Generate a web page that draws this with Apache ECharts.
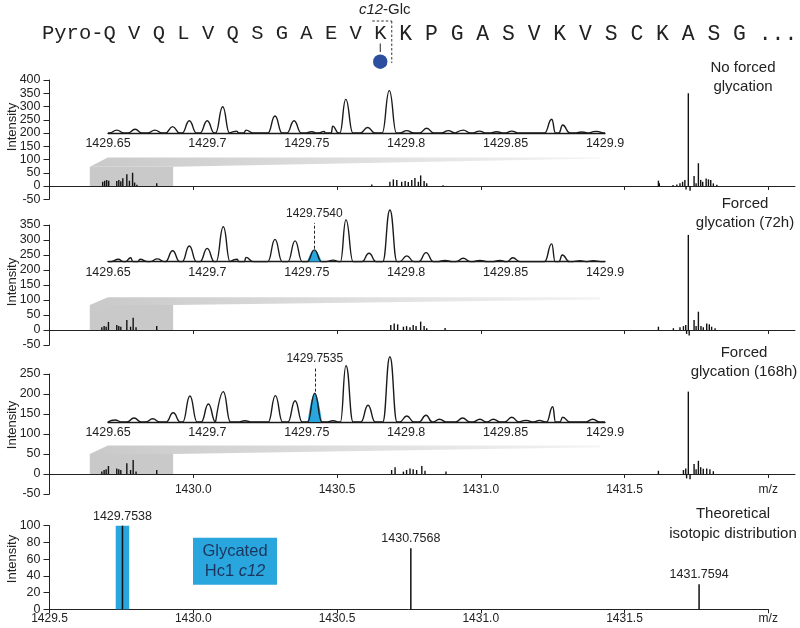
<!DOCTYPE html>
<html><head><meta charset="utf-8">
<script src="https://cdn.jsdelivr.net/npm/echarts@6/dist/echarts.min.js"></script>
<style>html,body{margin:0;padding:0;background:#fff}#c{width:800px;height:628px}</style>
</head><body><div id="c"></div>
<script>
// ---------------- DATA ----------------
const sequenceHead = 'Pyro-Q V Q L V Q S G A E V K';
const sequenceTail = 'K P G A S V K V S C K A S G ...';
const siteLabel = '{i|c12}-Glc';
const panelTitles = ['No forced\nglycation', 'Forced\nglycation (72h)', 'Forced\nglycation (168h)', 'Theoretical\nisotopic distribution'];
const boxText = 'Glycated\nHc1 {i|c12}';

const mainTickValues = [1430, 1430.5, 1431, 1431.5, 1432];
const bottomTickValues = [1429.5, 1430, 1430.5, 1431, 1431.5, 1432];
const insetTickStep = 0.05;

// main stick spectra [m/z, intensity]
const spectrum1 = [[1429.685,16],[1429.692,20],[1429.699,23],[1429.706,20],[1429.734,19],[1429.741,23],[1429.748,18],[1429.755,29],[1429.769,44],[1429.778,20],[1429.789,50],[1429.796,13],[1429.804,5],[1429.873,10],
  [1430.621,6],[1430.684,16],[1430.696,25],[1430.708,23],[1430.725,16],[1430.737,19],[1430.748,15],[1430.760,23],[1430.771,30],[1430.783,16],[1430.791,40],[1430.803,19],[1430.812,10],[1430.869,3],
  [1431.618,20],[1431.621,10],[1431.669,4],[1431.682,6],[1431.693,10],[1431.702,16],[1431.710,23],[1431.714,-13],[1431.722,350],[1431.728,-18],[1431.742,38],[1431.749,10],[1431.757,86],[1431.765,23],[1431.772,16],[1431.784,28],[1431.792,25],[1431.800,23],[1431.809,10],[1431.821,5]];
const spectrum2 = [[1429.682,9],[1429.690,13],[1429.697,11],[1429.705,27],[1429.734,17],[1429.741,13],[1429.748,11],[1429.769,33],[1429.782,11],[1429.791,41],[1429.801,9],[1429.873,13],
  [1430.687,17],[1430.699,22],[1430.711,19],[1430.731,11],[1430.742,13],[1430.754,9],[1430.765,17],[1430.775,13],[1430.791,28],[1430.803,13],[1430.812,6],[1430.876,7],
  [1431.618,11],[1431.670,6],[1431.693,9],[1431.705,13],[1431.713,17],[1431.716,-13],[1431.722,317],[1431.725,-18],[1431.742,33],[1431.749,13],[1431.757,61],[1431.766,13],[1431.774,9],[1431.786,22],[1431.795,19],[1431.803,11],[1431.815,6]];
const spectrum3 = [[1429.682,6],[1429.690,10],[1429.697,12],[1429.705,20],[1429.734,14],[1429.741,12],[1429.748,10],[1429.769,27],[1429.782,10],[1429.791,35],[1429.801,6],[1429.873,10],
  [1430.690,10],[1430.702,17],[1430.731,6],[1430.742,10],[1430.754,14],[1430.765,12],[1430.777,10],[1430.795,20],[1430.806,8],[1430.879,6],
  [1431.618,8],[1431.705,10],[1431.713,14],[1431.716,-11],[1431.722,206],[1431.728,-13],[1431.742,25],[1431.749,12],[1431.757,33],[1431.765,17],[1431.774,13],[1431.786,14],[1431.797,12],[1431.809,7]];

// inset (magnified) profile peaks [m/z, intensity on panel scale], baselines
const insetBase = [200, 228, 130];
const insetPeaks1 = [[1429.6544,211],[1429.6636,214],[1429.6736,211],[1429.6825,224],[1429.6909,246],[1429.6999,246],[1429.7077,299],[1429.7147,207],[1429.7194,211],[1429.7340,264],[1429.7436,246],[1429.7525,205],[1429.7587,206],[1429.7630,226],[1429.7696,327],[1429.7806,221],[1429.7915,360],[1429.8003,209],[1429.8103,218],[1429.8212,209],[1429.8287,211],[1429.8368,207],[1429.8455,205],[1429.8531,207],[1429.8732,252],[1429.8787,230],[1429.8883,204],[1429.8958,206]];
const insetPeaks2 = [[1429.6552,236],[1429.6614,241],[1429.6661,236],[1429.6748,237],[1429.6825,264],[1429.6909,280],[1429.6999,272],[1429.7080,344],[1429.7150,236],[1429.7194,242],[1429.7340,302],[1429.7441,297],[1429.7538,267],[1429.7633,233],[1429.7697,367],[1429.7813,256],[1429.7918,400],[1429.8003,247],[1429.8100,258],[1429.8195,232],[1429.8287,239],[1429.8371,232],[1429.8472,232],[1429.8536,241],[1429.8732,287],[1429.8785,250],[1429.8874,231],[1429.8941,231]];
const insetPeaks3 = [[1429.6535,135],[1429.6631,140],[1429.6725,138],[1429.6828,153],[1429.6912,195],[1429.7005,175],[1429.7080,206],[1429.7189,133],[1429.7342,196],[1429.7441,183],[1429.7540,202],[1429.7633,133],[1429.7697,271],[1429.7808,172],[1429.7918,293],[1429.8003,145],[1429.8100,147],[1429.8167,137],[1429.8284,140],[1429.8371,137],[1429.8438,137],[1429.8531,142],[1429.8606,134],[1429.8670,134],[1429.8737,168],[1429.8787,142],[1429.8938,137]];
// glycated peak highlight: [m/z, intensity], label, label-line top
const glycPeaks = [null, [1429.7538, 267], [1429.7540, 202]];
const glycLabels = [null, '1429.7540', '1429.7535'];
const glycLineTop = [null, 357, 267];

// zoom region (main m/z) and wedge
const zoomRange = [1429.64, 1429.93];
const wedgeRange = [1429.703, 1431.415];
const zoomShape = [[73, 108, 104], [83, 109, 102], [50, 71, 67]]; // [box top, wedge top, wedge tip low]

// theoretical isotopic distribution
const theoretical = [[1429.7538, 100], [1430.7568, 73], [1431.7594, 30]];
const highlight = [[1429.7538, 100]];

// ---------------- LAYOUT ----------------
const FONT = 'Liberation Sans, Arial, sans-serif';
const TXT = '#222';
const BLUE = '#2aa6de';
const panels = [
  {zeroY: 186, ppu: 0.265, min: -50, max: 400, insetMax: 420},
  {zeroY: 330, ppu: 0.3, min: -50, max: 350, insetMax: 430},
  {zeroY: 474, ppu: 0.4, min: -50, max: 250, insetMax: 320},
  {zeroY: 609.3, ppu: 0.836, min: 0, max: 100}
];
const LEFT = 49.5, PXU = 287.5, MAINRIGHT = 795, INSET_L = 108, INSET_R = 605;
const insetRange = [1429.65, 1429.9];
const spectra = [spectrum1, spectrum2, spectrum3];
const insetPeaks = [insetPeaks1, insetPeaks2, insetPeaks3];

const grid = [], xAxis = [], yAxis = [], series = [];
panels.forEach((p, i) => {
  const xmax = i < 3 ? 1429.5 + (MAINRIGHT - LEFT) / PXU : 1432;
  const right = i < 3 ? 800 - MAINRIGHT : 800 - (LEFT + (1432 - 1429.5) * PXU);
  grid.push({left: LEFT, right: right, top: p.zeroY - p.max * p.ppu, height: (p.max - p.min) * p.ppu, containLabel: false});
  const ticks = i < 3 ? mainTickValues : bottomTickValues;
  xAxis.push({type: 'value', gridIndex: i, min: 1429.5, max: xmax,
    axisLine: {show: true, onZero: true, lineStyle: {color: TXT, width: 1}},
    axisTick: {show: true, length: 4, customValues: ticks, lineStyle: {color: TXT}},
    axisLabel: {show: i >= 2, customValues: ticks, color: TXT, fontSize: 12, fontFamily: FONT, margin: i === 3 ? 3 : -10,
      formatter: v => Math.abs(v - 1432) < 1e-6 ? 'm/z' : Number(v).toFixed(1)},
    splitLine: {show: false}});
  yAxis.push({type: 'value', gridIndex: i, min: p.min, max: p.max, interval: i === 3 ? 20 : 50,
    axisLine: {show: true, lineStyle: {color: TXT, width: 1}},
    axisTick: {show: true, length: 6, lineStyle: {color: TXT}},
    axisLabel: {color: TXT, fontSize: 12.5, fontFamily: FONT, margin: 9},
    splitLine: {show: false}});
});
// hidden x axis for highlight bar in bottom panel
xAxis.push({type: 'value', gridIndex: 3, min: 1429.5, max: 1432, show: false});
// inset grids
[0, 1, 2].forEach(i => {
  const p = panels[i], base = insetBase[i];
  grid.push({left: INSET_L, right: 800 - INSET_R, top: p.zeroY - p.insetMax * p.ppu, height: (p.insetMax - base) * p.ppu, containLabel: false});
  xAxis.push({type: 'value', gridIndex: 4 + i, min: insetRange[0], max: insetRange[1], interval: insetTickStep, position: 'bottom',
    axisLine: {show: true, onZero: false, lineStyle: {color: '#1a1a1a', width: 1.4}},
    axisTick: {show: false},
    axisLabel: {show: true, color: TXT, fontSize: 12.5, fontFamily: FONT, margin: 4, showMinLabel: true, showMaxLabel: true,
      formatter: v => String(parseFloat(Number(v).toFixed(2)))},
    splitLine: {show: false}});
  yAxis.push({type: 'value', gridIndex: 4 + i, min: base, max: p.insetMax, show: false, splitLine: {show: false}});
});

function peakPts(c, h, base) { const w = 0.0036; return [[c - w, base], [c, h], [c + w, base]]; }
function insetCurve(peaks, base) {
  let pts = [[insetRange[0], base], [insetRange[1], base]];
  peaks.forEach(([c, h]) => { pts = pts.concat(peakPts(c, h, base)); });
  pts.sort((a, b) => a[0] - b[0]);
  return pts;
}

[0, 1, 2].forEach(i => {
  const [boxTop, wTop, wLow] = zoomShape[i];
  series.push({type: 'custom', xAxisIndex: i, yAxisIndex: i, z: 1, silent: true, data: [[zoomRange[0], 0]],
    renderItem: (params, api) => {
      const c = (x, y) => api.coord([x, y]);
      return {type: 'group', children: [
        {type: 'polygon', shape: {points: [c(zoomRange[0], 0), c(zoomRange[0], boxTop), c(zoomRange[1], boxTop), c(zoomRange[1], 0)]}, style: {fill: '#c9c9c9'}},
        {type: 'polygon', shape: {points: [c(zoomRange[0], boxTop), c(wedgeRange[0], wTop), c(wedgeRange[1], wTop), c(wedgeRange[1], wLow), c(zoomRange[1], boxTop)]},
          style: {fill: new echarts.graphic.LinearGradient(0, 0, 1, 0, [{offset: 0, color: '#c9c9c9'}, {offset: 1, color: '#f3f3f3'}])}}
      ]};
    }});
  series.push({type: 'bar', xAxisIndex: i, yAxisIndex: i, data: spectra[i], barWidth: 1.4, z: 3, silent: true,
    itemStyle: {color: '#111'}});
  // inset profile
  series.push({type: 'line', xAxisIndex: 5 + i, yAxisIndex: 4 + i, data: insetCurve(insetPeaks[i], insetBase[i]),
    showSymbol: false, symbol: 'none', smooth: 0.5, smoothMonotone: 'x', clip: false, z: 5, silent: true,
    lineStyle: {color: '#1a1a1a', width: 1.4}});
  if (glycPeaks[i]) {
    const [gc, gh] = glycPeaks[i];
    series.push({type: 'line', xAxisIndex: 5 + i, yAxisIndex: 4 + i, data: peakPts(gc, gh, insetBase[i]),
      showSymbol: false, symbol: 'none', smooth: 0.5, smoothMonotone: 'x', clip: false, z: 4, silent: true,
      lineStyle: {width: 0}, areaStyle: {color: BLUE, opacity: 1, origin: 'start'},
      markLine: {symbol: 'none', silent: true, animation: false,
        lineStyle: {type: [3, 2], color: '#222', width: 1},
        label: {show: true, position: 'end', formatter: glycLabels[i], color: TXT, fontSize: 12, fontFamily: FONT, distance: 3},
        data: [[{coord: [gc, gh + 4]}, {coord: [gc, glycLineTop[i]]}]]}});
  }
});
// theoretical
series.push({type: 'bar', xAxisIndex: 4, yAxisIndex: 3, data: highlight, barWidth: 13.5, z: 2, silent: true, itemStyle: {color: BLUE}});
series.push({type: 'bar', xAxisIndex: 3, yAxisIndex: 3, data: theoretical, barWidth: 1.5, z: 3, silent: true, itemStyle: {color: '#111'},
  label: {show: true, position: 'top', distance: 3, color: TXT, fontSize: 12.5, fontFamily: FONT, formatter: p => p.value[0].toFixed(4)}});

// ---------------- ANNOTATIONS ----------------
const seqX = 42, seqY = 34, seqFont = 20.5, pitch = seqFont * 0.6;
const kIndex = sequenceHead.length - 1;
const kx = seqX + (kIndex + 0.5) * pitch;
const tailFont = 21.4, tailX = kx + 25.5 - tailFont * 0.3;
const graphic = [
  {type: 'text', x: seqX, y: seqY, style: {text: sequenceHead, fontFamily: 'Liberation Mono, monospace', fontSize: seqFont, fill: TXT, align: 'left', verticalAlign: 'middle'}},
  {type: 'text', x: tailX, y: seqY, style: {text: sequenceTail, fontFamily: 'Liberation Mono, monospace', fontSize: tailFont, fill: TXT, align: 'left', verticalAlign: 'middle'}},
  {type: 'text', x: kx + 4.5, y: 10, style: {text: siteLabel, fontFamily: FONT, fontSize: 15, fill: TXT, align: 'center', verticalAlign: 'middle',
    rich: {i: {fontStyle: 'italic', fontFamily: FONT, fontSize: 15, fill: TXT}}}},
  {type: 'line', shape: {x1: kx - 8, y1: 21, x2: kx + 11.5, y2: 21}, style: {stroke: '#333', lineWidth: 1, lineDash: [2.5, 2]}},
  {type: 'line', shape: {x1: kx + 11.5, y1: 21, x2: kx + 11.5, y2: 63}, style: {stroke: '#333', lineWidth: 1, lineDash: [2.5, 2]}},
  {type: 'line', shape: {x1: kx, y1: 43.5, x2: kx, y2: 52}, style: {stroke: '#222', lineWidth: 1}},
  {type: 'circle', shape: {cx: kx, cy: 61.7, r: 7.2}, style: {fill: '#2d4e9f'}},
  {type: 'text', x: 743, y: 77.5, style: {text: panelTitles[0], fontFamily: FONT, fontSize: 15, lineHeight: 19, fill: TXT, align: 'center', verticalAlign: 'middle'}},
  {type: 'text', x: 745, y: 213, style: {text: panelTitles[1], fontFamily: FONT, fontSize: 15, lineHeight: 19, fill: TXT, align: 'center', verticalAlign: 'middle'}},
  {type: 'text', x: 744, y: 362, style: {text: panelTitles[2], fontFamily: FONT, fontSize: 15, lineHeight: 19, fill: TXT, align: 'center', verticalAlign: 'middle'}},
  {type: 'text', x: 733, y: 523.5, style: {text: panelTitles[3], fontFamily: FONT, fontSize: 15, lineHeight: 20, fill: TXT, align: 'center', verticalAlign: 'middle'}},
  {type: 'rect', shape: {x: 193, y: 537.7, width: 84, height: 47}, style: {fill: BLUE}},
  {type: 'text', x: 235, y: 561.5, style: {text: boxText, fontFamily: FONT, fontSize: 16.5, lineHeight: 20, fill: '#1c355e', align: 'center', verticalAlign: 'middle',
    rich: {i: {fontStyle: 'italic', fontFamily: FONT, fontSize: 16.5, fill: '#1c355e'}}}}
];
[127, 282, 425, 559].forEach(y => graphic.push({type: 'text', x: 12, y: y, rotation: Math.PI / 2,
  style: {text: 'Intensity', fontFamily: FONT, fontSize: 13, fill: TXT, align: 'center', verticalAlign: 'middle'}}));

const chart = echarts.init(document.getElementById('c'), null, {renderer: 'canvas'});
chart.setOption({animation: false, backgroundColor: '#fff', grid, xAxis, yAxis, series, graphic});
</script></body></html>
